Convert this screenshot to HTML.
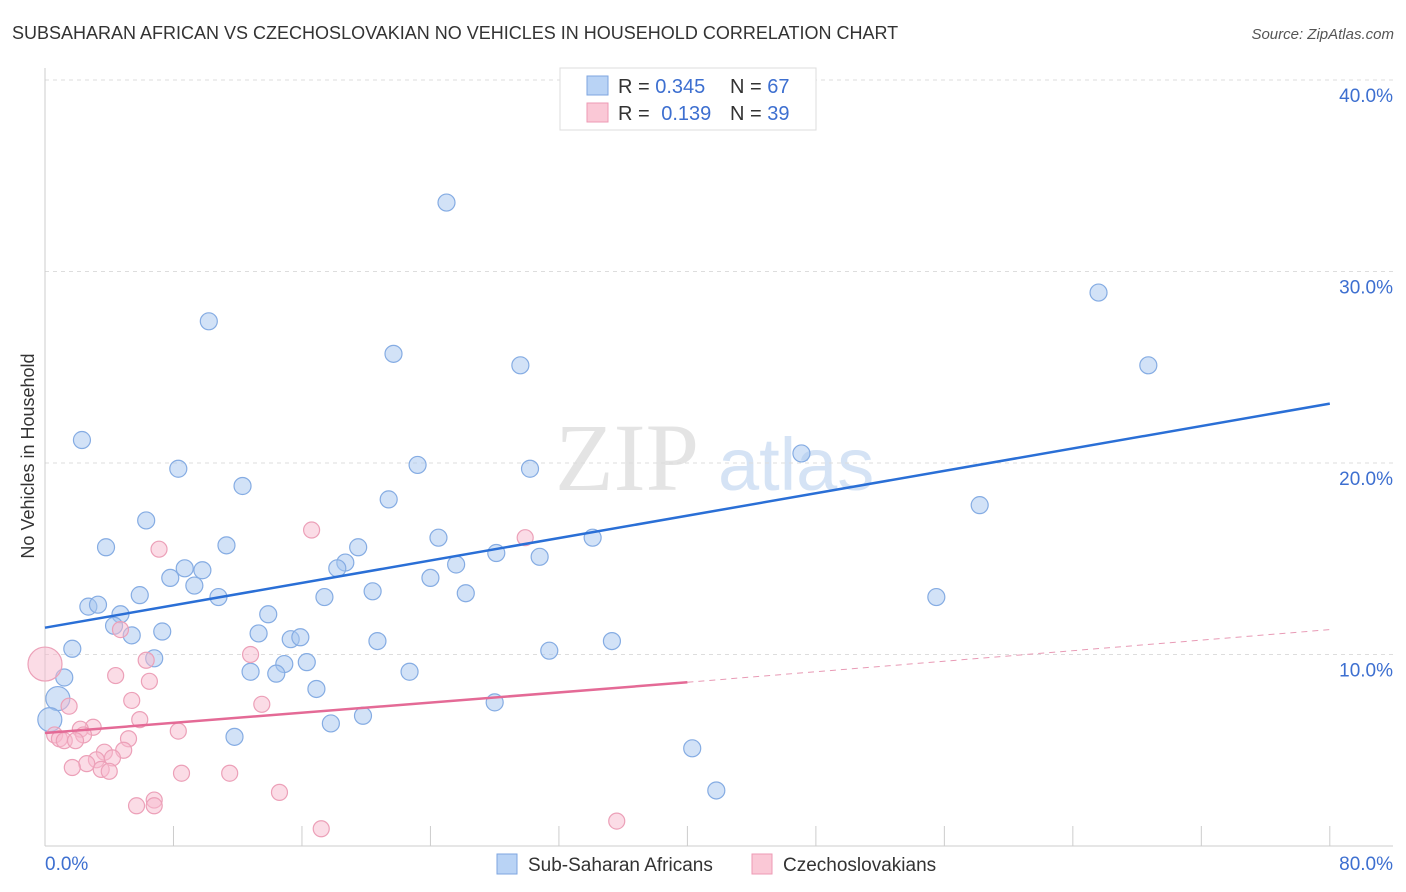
<!DOCTYPE html>
<html><head><meta charset="utf-8"><style>
body{margin:0;background:#fff;font-family:"Liberation Sans",sans-serif;}
svg{display:block}
</style></head><body>
<svg id="c" width="1406" height="892" xmlns="http://www.w3.org/2000/svg">
<text x="12" y="39" font-size="18" fill="#333">SUBSAHARAN AFRICAN VS CZECHOSLOVAKIAN NO VEHICLES IN HOUSEHOLD CORRELATION CHART</text>
<text x="1394" y="39" font-size="15" fill="#555" font-style="italic" text-anchor="end">Source: ZipAtlas.com</text>
<text x="0" y="0" transform="translate(34,456) rotate(-90)" font-size="18" fill="#333" text-anchor="middle">No Vehicles in Household</text>
<g><text x="555" y="490" font-family="Liberation Serif,serif" font-size="96" fill="#e4e4e4">ZIP</text><text x="718" y="490" font-size="74" fill="#d5e3f5">atlas</text></g>
<g id="grid"></g><g id="ax"></g><g id="pts"></g><g id="lines"></g>
<g>
<rect x="560" y="68" width="256" height="62" fill="#fff" stroke="#ddd"/>
<rect x="587" y="76" width="21" height="19" fill="#b9d3f5" stroke="#7ea6e0"/>
<rect x="587" y="103" width="21" height="19" fill="#fac8d6" stroke="#ee9ab4"/>
<text x="618" y="93" font-size="20" fill="#333">R = <tspan fill="#3d6fd0">0.345</tspan></text>
<text x="730" y="93" font-size="20" fill="#333">N = <tspan fill="#3d6fd0">67</tspan></text>
<text x="618" y="120" font-size="20" fill="#333">R = <tspan fill="#3d6fd0" dx="6">0.139</tspan></text>
<text x="730" y="120" font-size="20" fill="#333">N = <tspan fill="#3d6fd0">39</tspan></text>
</g>
<g>
<rect x="497" y="854" width="20" height="20" fill="#b9d3f5" stroke="#7ea6e0"/>
<text x="528" y="871" font-size="19" fill="#333">Sub-Saharan Africans</text>
<rect x="752" y="854" width="20" height="20" fill="#fac8d6" stroke="#ee9ab4"/>
<text x="783" y="871" font-size="19" fill="#333">Czechoslovakians</text>
</g>
</svg>
<script>
const blueX=[40.6,25.0,10.2,21.7,29.6,65.6,68.7,2.3,8.3,23.2,30.2,47.1,12.3,21.4,58.2,6.3,3.8,11.3,24.5,34.1,19.5,28.1,30.8,18.7,25.6,8.7,9.8,18.2,7.8,24.0,9.3,20.4,26.2,5.9,17.4,10.8,55.5,2.7,3.3,13.9,4.7,4.3,5.4,7.3,13.3,15.3,15.9,20.7,35.3,31.4,1.7,6.8,14.9,16.3,12.8,14.4,22.7,1.2,16.9,0.8,28.0,19.8,17.8,0.3,11.8,40.3,41.8];
const blueY=[37.9,33.6,27.4,25.7,25.1,28.9,25.1,21.2,19.7,19.9,19.7,20.5,18.8,18.1,17.8,17.0,15.6,15.7,16.1,16.1,15.6,15.3,15.1,14.8,14.7,14.5,14.4,14.5,14.0,14.0,13.6,13.3,13.2,13.1,13.0,13.0,13.0,12.5,12.6,12.1,12.1,11.5,11.0,11.2,11.1,10.8,10.9,10.7,10.7,10.2,10.3,9.8,9.5,9.6,9.1,9.0,9.1,8.8,8.2,7.7,7.5,6.8,6.4,6.6,5.7,5.1,2.9];
const blueBig=[59,63];
const pinkX=[0,16.6,29.9,7.1,4.7,12.8,6.3,4.4,6.5,5.4,13.5,1.5,5.9,3.0,2.2,8.3,0.6,2.4,0.9,1.2,1.9,5.2,4.9,3.7,3.2,4.2,2.6,1.7,3.5,4.0,8.5,11.5,14.6,6.8,5.7,6.8,17.2,35.6];
const pinkY=[9.5,16.5,16.1,15.5,11.3,10.0,9.7,8.9,8.6,7.6,7.4,7.3,6.6,6.2,6.1,6.0,5.8,5.8,5.6,5.5,5.5,5.6,5.0,4.9,4.5,4.6,4.3,4.1,4.0,3.9,3.8,3.8,2.8,2.4,2.1,2.1,0.9,1.3];
const pinkBig=[0];
const yTicks=[10,20,30,40];
const xLabels=["0.0%","80.0%"];
const blueTrend=[11.4,23.1];
const pinkTrend=[5.9,8.55,11.3];
const X=v=>45+v*16.06, Y=v=>846-v*19.15;
const NS="http://www.w3.org/2000/svg";
function mk(p,t,a){const e=document.createElementNS(NS,t);for(const k in a)e.setAttribute(k,a[k]);p.appendChild(e);return e;}
const grid=document.getElementById('grid'),ax=document.getElementById('ax'),pts=document.getElementById('pts'),lines=document.getElementById('lines');
yTicks.forEach(t=>{const l=mk(grid,'line',{x1:45,x2:1393,y1:Y(t),y2:Y(t),stroke:'#ddd','stroke-dasharray':'4,4'});


const tx=mk(ax,'text',{x:1393,y:Y(t)+22,'font-size':19,fill:'#3d6fd0','text-anchor':'end'});tx.textContent=t.toFixed(1)+'%';

});
const yl=mk(ax,'line',{x1:45,x2:45,y1:68,y2:846,stroke:'#ccc'});


const xl=mk(ax,'line',{x1:45,x2:1393,y1:846,y2:846,stroke:'#ccc'});


for(let i=0;i<=80;i+=8){const t=mk(ax,'line',{x1:X(i),x2:X(i),y1:826,y2:846,stroke:'#ccc'});

}
[[0,'start',45],[80,'end',1393]].forEach((d,i)=>{const t=mk(ax,'text',{x:d[2],y:870,'font-size':19,fill:'#3d6fd0','text-anchor':d[1]});t.textContent=xLabels[i];

});
blueX.forEach((v,i)=>{const c=mk(pts,'circle',{cx:X(v),cy:Y(blueY[i]),r:blueBig.includes(i)?12:8.5,fill:'rgba(165,198,240,0.5)',stroke:'#85ace3','stroke-width':1.2});

});
pinkX.forEach((v,i)=>{const c=mk(pts,'circle',{cx:X(v),cy:Y(pinkY[i]),r:pinkBig.includes(i)?17:8,fill:'rgba(248,185,205,0.5)',stroke:'#eca0b8','stroke-width':1.2});

});
const bl=mk(lines,'line',{x1:X(0),y1:Y(blueTrend[0]),x2:X(80),y2:Y(blueTrend[1]),stroke:'#2a6fd6','stroke-width':2.5});


const pl=mk(lines,'line',{x1:X(0),y1:Y(pinkTrend[0]),x2:X(40),y2:Y(pinkTrend[1]),stroke:'#e46a96','stroke-width':2.5});


const pd=mk(lines,'line',{x1:X(40),y1:Y(pinkTrend[1]),x2:X(80),y2:Y(pinkTrend[2]),stroke:'#e89ab5','stroke-width':1,'stroke-dasharray':'6,5'});


</script>
</body></html>
